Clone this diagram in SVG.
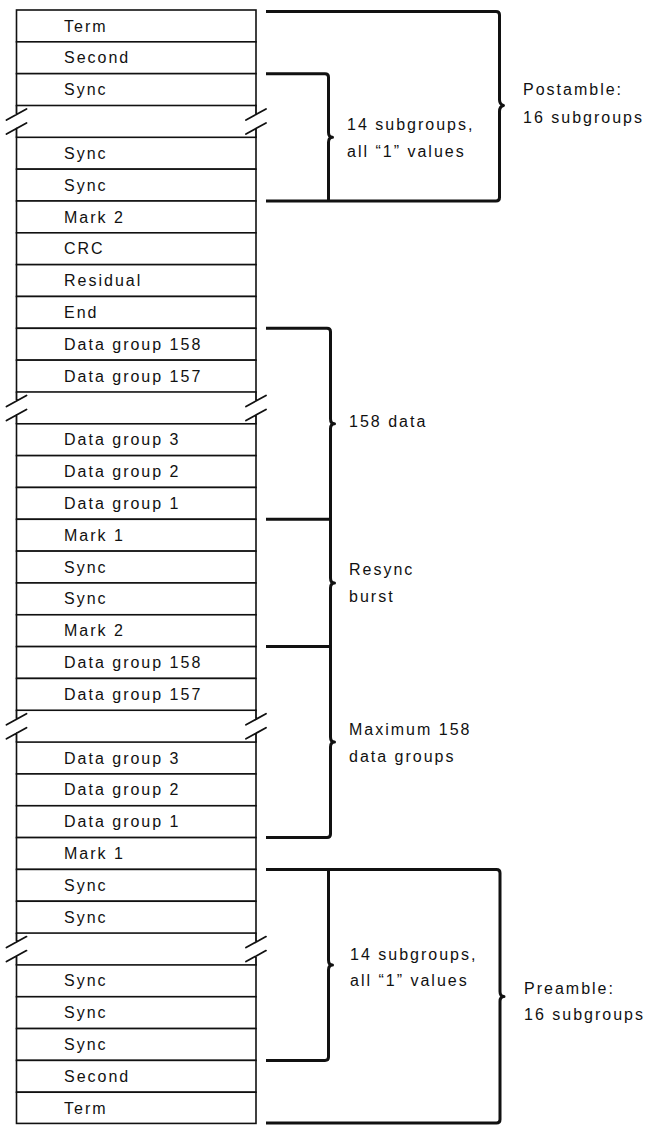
<svg xmlns="http://www.w3.org/2000/svg" xmlns:xlink="http://www.w3.org/1999/xlink" width="645" height="1125" viewBox="0 0 645 1125">
<style>
  .row { fill: #fff; stroke: #111; stroke-width: 1.6; }
  .brk { fill: none; stroke: #111; stroke-width: 1.8; stroke-linecap: round; }
  .lbl { font-family: "Liberation Sans", Arial, sans-serif; font-size: 16px; letter-spacing: 2px; fill: #111; }
  .brace { fill: none; stroke: #111; stroke-width: 3; stroke-linejoin: round; stroke-linecap: butt; }
</style>
<defs>
  <path id="breakmark" d="M16.5,0 V9 M16.5,23 V31.83 M6.5,14.5 L26.5,3.5 M6.5,28.5 L26.5,17.5 M256,0 V9 M256,23 V31.83 M246,14.5 L266,3.5 M246,28.5 L266,17.5"/>
</defs>
<rect x="0" y="0" width="645" height="1125" fill="#fff"/>

<g id="stack">
  <g id="r01"><rect class="row" x="16.5" y="10" width="239.5" height="31.83"/><text class="lbl" x="64" y="31.5">Term</text></g>
  <g id="r02"><rect class="row" x="16.5" y="41.83" width="239.5" height="31.83"/><text class="lbl" x="64" y="63.3">Second</text></g>
  <g id="r03"><rect class="row" x="16.5" y="73.66" width="239.5" height="31.83"/><text class="lbl" x="64" y="95.2">Sync</text></g>
  <g id="r04"><use xlink:href="#breakmark" href="#breakmark" class="brk" y="105.49"/></g>
  <g id="r05"><rect class="row" x="16.5" y="137.32" width="239.5" height="31.83"/><text class="lbl" x="64" y="158.8">Sync</text></g>
  <g id="r06"><rect class="row" x="16.5" y="169.15" width="239.5" height="31.83"/><text class="lbl" x="64" y="190.7">Sync</text></g>
  <g id="r07"><rect class="row" x="16.5" y="200.98" width="239.5" height="31.83"/><text class="lbl" x="64" y="222.5">Mark 2</text></g>
  <g id="r08"><rect class="row" x="16.5" y="232.81" width="239.5" height="31.83"/><text class="lbl" x="64" y="254.3">CRC</text></g>
  <g id="r09"><rect class="row" x="16.5" y="264.64" width="239.5" height="31.83"/><text class="lbl" x="64" y="286.1">Residual</text></g>
  <g id="r10"><rect class="row" x="16.5" y="296.47" width="239.5" height="31.83"/><text class="lbl" x="64" y="318">End</text></g>
  <g id="r11"><rect class="row" x="16.5" y="328.3" width="239.5" height="31.83"/><text class="lbl" x="64" y="349.8">Data group 158</text></g>
  <g id="r12"><rect class="row" x="16.5" y="360.13" width="239.5" height="31.83"/><text class="lbl" x="64" y="381.6">Data group 157</text></g>
  <g id="r13"><use xlink:href="#breakmark" href="#breakmark" class="brk" y="391.96"/></g>
  <g id="r14"><rect class="row" x="16.5" y="423.79" width="239.5" height="31.83"/><text class="lbl" x="64" y="445.3">Data group 3</text></g>
  <g id="r15"><rect class="row" x="16.5" y="455.62" width="239.5" height="31.83"/><text class="lbl" x="64" y="477.1">Data group 2</text></g>
  <g id="r16"><rect class="row" x="16.5" y="487.45" width="239.5" height="31.83"/><text class="lbl" x="64" y="509">Data group 1</text></g>
  <g id="r17"><rect class="row" x="16.5" y="519.28" width="239.5" height="31.83"/><text class="lbl" x="64" y="540.8">Mark 1</text></g>
  <g id="r18"><rect class="row" x="16.5" y="551.11" width="239.5" height="31.83"/><text class="lbl" x="64" y="572.6">Sync</text></g>
  <g id="r19"><rect class="row" x="16.5" y="582.94" width="239.5" height="31.83"/><text class="lbl" x="64" y="604.4">Sync</text></g>
  <g id="r20"><rect class="row" x="16.5" y="614.77" width="239.5" height="31.83"/><text class="lbl" x="64" y="636.3">Mark 2</text></g>
  <g id="r21"><rect class="row" x="16.5" y="646.6" width="239.5" height="31.83"/><text class="lbl" x="64" y="668.1">Data group 158</text></g>
  <g id="r22"><rect class="row" x="16.5" y="678.43" width="239.5" height="31.83"/><text class="lbl" x="64" y="699.9">Data group 157</text></g>
  <g id="r23"><use xlink:href="#breakmark" href="#breakmark" class="brk" y="710.26"/></g>
  <g id="r24"><rect class="row" x="16.5" y="742.09" width="239.5" height="31.83"/><text class="lbl" x="64" y="763.6">Data group 3</text></g>
  <g id="r25"><rect class="row" x="16.5" y="773.92" width="239.5" height="31.83"/><text class="lbl" x="64" y="795.4">Data group 2</text></g>
  <g id="r26"><rect class="row" x="16.5" y="805.75" width="239.5" height="31.83"/><text class="lbl" x="64" y="827.3">Data group 1</text></g>
  <g id="r27"><rect class="row" x="16.5" y="837.58" width="239.5" height="31.83"/><text class="lbl" x="64" y="859.1">Mark 1</text></g>
  <g id="r28"><rect class="row" x="16.5" y="869.41" width="239.5" height="31.83"/><text class="lbl" x="64" y="890.9">Sync</text></g>
  <g id="r29"><rect class="row" x="16.5" y="901.24" width="239.5" height="31.83"/><text class="lbl" x="64" y="922.7">Sync</text></g>
  <g id="r30"><use xlink:href="#breakmark" href="#breakmark" class="brk" y="933.07"/></g>
  <g id="r31"><rect class="row" x="16.5" y="964.9" width="239.5" height="31.83"/><text class="lbl" x="64" y="986.4">Sync</text></g>
  <g id="r32"><rect class="row" x="16.5" y="996.73" width="239.5" height="31.83"/><text class="lbl" x="64" y="1018.2">Sync</text></g>
  <g id="r33"><rect class="row" x="16.5" y="1028.56" width="239.5" height="31.83"/><text class="lbl" x="64" y="1050.1">Sync</text></g>
  <g id="r34"><rect class="row" x="16.5" y="1060.39" width="239.5" height="31.83"/><text class="lbl" x="64" y="1081.9">Second</text></g>
  <g id="r35"><rect class="row" x="16.5" y="1092.22" width="239.5" height="31.2"/><text class="lbl" x="64" y="1113.7">Term</text></g>
</g>

<g id="brackets">
  <path class="brace" d="M266,11.5 H496 Q499.5,11.5 499.5,15 V99.5 Q499.5,104.5 503.5,105.5 Q499.5,106.5 499.5,111.5 V197.5 Q499.5,201 496,201 H266"/>
  <path class="brace" d="M266,73.7 H325 Q328.5,73.7 328.5,77.2 V132.3 Q328.5,137.3 332.5,137.3 Q328.5,137.3 328.5,142.3 V201"/>
  <path class="brace" d="M266,328.3 H327 Q330.5,328.3 330.5,331.8 V418.8 Q330.5,423.8 334.5,423.8 Q330.5,423.8 330.5,428.8 V577.9 Q330.5,582.9 334.5,582.9 Q330.5,582.9 330.5,587.9 V737.1 Q330.5,742.1 334.5,742.1 Q330.5,742.1 330.5,747.1 V834 Q330.5,837.6 327,837.6 H266"/>
  <path class="brace" d="M266,519.3 H330.5 M266,646.6 H330.5"/>
  <path class="brace" d="M266,869.4 H496.5 Q500,869.4 500,872.9 V991.5 Q500,996.5 504,996.5 Q500,996.5 500,1001.5 V1119.5 Q500,1123 496.5,1123 H266"/>
  <path class="brace" d="M328.5,869.4 V959.9 Q328.5,964.9 332.5,964.9 Q328.5,964.9 328.5,969.9 V1057 Q328.5,1060.4 325,1060.4 H266"/>
</g>

<g id="labels">
  <g id="lbl-postamble"><text class="lbl" x="523" y="95">Postamble:</text><text class="lbl" x="523" y="123">16 subgroups</text></g>
  <g id="lbl-post14"><text class="lbl" x="347" y="130">14 subgroups,</text><text class="lbl" x="347" y="157">all “1” values</text></g>
  <g id="lbl-158data"><text class="lbl" x="349" y="427">158 data</text></g>
  <g id="lbl-resync"><text class="lbl" x="349" y="575">Resync</text><text class="lbl" x="349" y="602">burst</text></g>
  <g id="lbl-max158"><text class="lbl" x="349" y="735">Maximum 158</text><text class="lbl" x="349" y="762">data groups</text></g>
  <g id="lbl-pre14"><text class="lbl" x="350" y="960">14 subgroups,</text><text class="lbl" x="350" y="986">all “1” values</text></g>
  <g id="lbl-preamble"><text class="lbl" x="524" y="994">Preamble:</text><text class="lbl" x="524" y="1020">16 subgroups</text></g>
</g>
</svg>
